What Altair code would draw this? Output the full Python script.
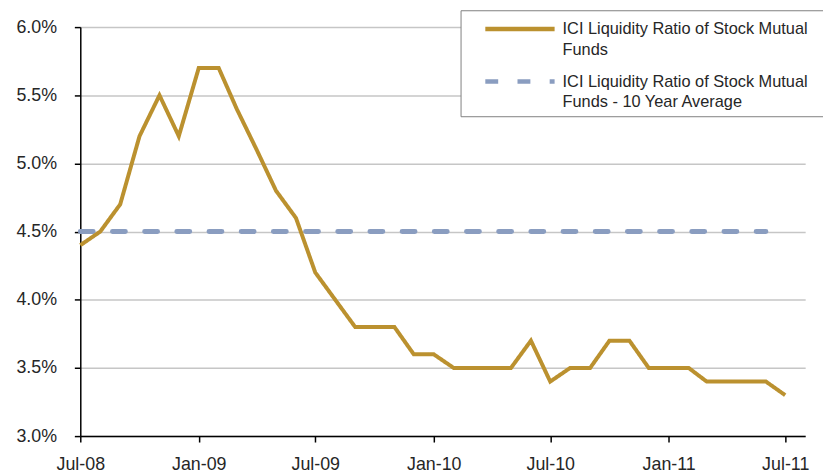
import altair as alt
import pandas as pd

# ---- data ----
months = pd.date_range("2008-07-01", "2011-07-01", freq="MS").strftime("%Y-%m-%d").tolist()
ratio = [4.4, 4.5, 4.7, 5.2, 5.5, 5.2, 5.7, 5.7, 5.4, 5.1, 4.8, 4.6,
         4.2, 4.0, 3.8, 3.8, 3.8, 3.6, 3.6, 3.5, 3.5, 3.5, 3.5, 3.7,
         3.4, 3.5, 3.5, 3.7, 3.7, 3.5, 3.5, 3.5, 3.4, 3.4, 3.4, 3.4, 3.3]
avg_value = 4.5
avg_start, avg_end = "2008-07-01", "2011-06-01"

series_main = "ICI Liquidity Ratio of Stock Mutual Funds"
series_avg = "ICI Liquidity Ratio of Stock Mutual Funds - 10 Year Average"

y_ticks = [3.0, 3.5, 4.0, 4.5, 5.0, 5.5, 6.0]
x_ticks = ["2008-07-01", "2009-01-01", "2009-07-01", "2010-01-01",
           "2010-07-01", "2011-01-01", "2011-07-01"]

GOLD = "#BB912F"
BLUE = "#8A9DC0"
FONT = "Liberation Sans"

df_main = pd.DataFrame({"date": months, "value": ratio, "series": series_main})
df_avg = pd.DataFrame({"date": [avg_start, avg_end], "value": [avg_value, avg_value],
                       "series": series_avg})


def dt(s):
    y, m, d = (int(p) for p in s.split("-"))
    return alt.DateTime(year=y, month=m, date=d, utc=True)


x_enc = alt.X(
    "date:T",
    scale=alt.Scale(type="utc", domain=[dt("2008-07-01"), dt("2011-08-01")]),
    axis=alt.Axis(
        title=None, values=[dt(s) for s in x_ticks], format="%b-%y",
        grid=False, labelFontSize=18, labelFont=FONT, labelColor="#262626",
        tickSize=6, tickColor="black", tickWidth=1.5, domainColor="black",
        domainWidth=1.5, labelPadding=14, labelFlush=False,
    ),
)
y_enc = alt.Y(
    "value:Q",
    scale=alt.Scale(domain=[3.0, 6.0], nice=False, zero=False),
    axis=alt.Axis(
        title=None, values=y_ticks, labelExpr="format(datum.value, '.1f') + '%'",
        grid=True, gridColor="#C6C6C6", gridWidth=1.5,
        labelFontSize=18, labelFont=FONT, labelColor="#262626",
        tickSize=6, tickColor="black", tickWidth=1.5, domainColor="black",
        domainWidth=1.5, labelPadding=18,
    ),
)

color_enc = alt.Color(
    "series:N",
    scale=alt.Scale(domain=[series_main, series_avg], range=[GOLD, BLUE]),
    legend=alt.Legend(
        # an invisible (white) title on the right only widens the legend box
        title=".", titleOrient="right", titleColor="white", titleFontSize=8,
        titlePadding=12,
        orient="none", legendX=384, legendY=-17, direction="vertical",
        fillColor="white", strokeColor="#7F7F7F", padding=5,
        symbolType="M0,0H6", symbolSize=544, symbolStrokeWidth=4.5,
        symbolOffset=6, labelOffset=64,
        labelFontSize=16.5, labelFont=FONT, labelColor="#262626",
        labelExpr="[substring(datum.label, 0, 35), substring(datum.label, 36)]",
        labelLimit=500, rowPadding=9,
    ),
)
dash_enc = alt.StrokeDash(
    "series:N",
    scale=alt.Scale(domain=[series_main, series_avg], range=[[1, 0], [13, 19.5]]),
    legend=None,
)

avg_line = alt.Chart(df_avg).mark_line(strokeWidth=5, strokeCap="round").encode(
    x=x_enc, y=y_enc, color=color_enc, strokeDash=dash_enc
)
main_line = alt.Chart(df_main).mark_line(strokeWidth=4, strokeJoin="miter").encode(
    x=x_enc, y=y_enc, color=color_enc, strokeDash=dash_enc
)

chart = (
    alt.layer(avg_line, main_line)
    .properties(
        width=732, height=413,
        autosize=alt.AutoSizeParams(type="none"),
        padding={"left": 73, "top": 17, "right": 18, "bottom": 37},
    )
    .configure(
        view={"stroke": None},
        style={"guide-label": {"lineHeight": 21}},
    )
)

chart.save("out.html", embed_options={"renderer": "svg", "actions": False})
